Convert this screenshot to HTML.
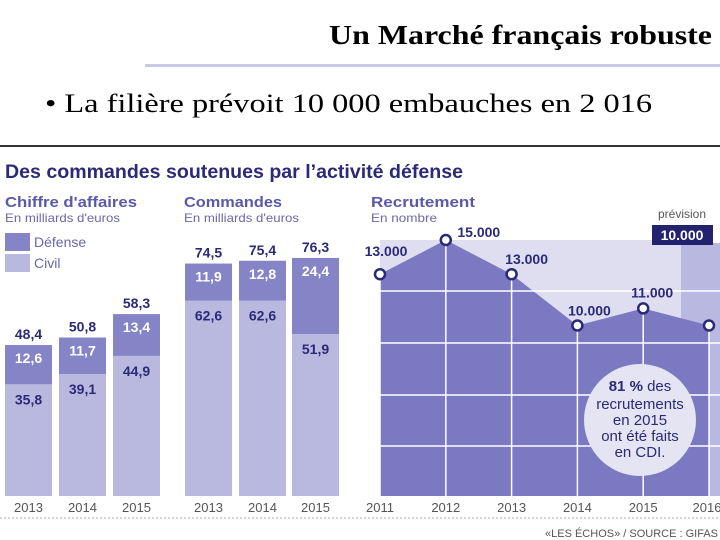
<!DOCTYPE html>
<html><head><meta charset="utf-8"><style>
body{margin:0;width:720px;height:540px;background:#fff;overflow:hidden;position:relative;font-family:"Liberation Sans",sans-serif}
</style></head><body>
<svg width="720" height="540" style="position:absolute;left:0;top:0">
<text x="329" y="44" font-family="Liberation Serif, serif" font-size="27" font-weight="bold" textLength="383" lengthAdjust="spacingAndGlyphs">Un Marché français robuste</text>
<rect x="145" y="64" width="575" height="3" fill="#c8c8e8"/>
<text x="45" y="112" font-family="Liberation Serif, serif" font-size="26" textLength="607" lengthAdjust="spacingAndGlyphs">• La filière prévoit 10 000 embauches en 2 016</text>
<rect x="0" y="145" width="720" height="2" fill="#333"/>
<g id="g" font-family="Liberation Sans, sans-serif"></g>
</svg>
<script>
const caYears=["2013","2014","2015"];
const caCivil=[35.8,39.1,44.9];
const caDef=[12.6,11.7,13.4];
const caTot=["48,4","50,8","58,3"];
const cmYears=["2013","2014","2015"];
const cmCivil=[62.6,62.6,51.9];
const cmDef=[11.9,12.8,24.4];
const cmTot=["74,5","75,4","76,3"];
const rcYears=["2011","2012","2013","2014","2015","2016"];
const rcVals=[13000,15000,13000,10000,11000,10000];
const g=document.getElementById('g');
const NS='http://www.w3.org/2000/svg';
function el(t,a,txt){const e=document.createElementNS(NS,t);for(const k in a)e.setAttribute(k,a[k]);if(txt!==undefined)e.textContent=txt;g.appendChild(e);return e;}
const navy='#2b2a78',civ='#b9b9e0',def='#8484c6';
const base=496,k=3.12;
const fmt=v=>String(v).replace('.',',');
let t;
t=el('text',{x:5,y:178,'font-size':19,'font-weight':'bold',fill:navy,textLength:458,lengthAdjust:'spacingAndGlyphs'},'Des commandes soutenues par l’activité défense');

function hdr(x,a,b,n,w1,w2){let e=el('text',{x:x,y:207,'font-size':15,'font-weight':'bold',fill:'#5a58a8',textLength:w1,lengthAdjust:'spacingAndGlyphs'},a);
e=el('text',{x:x,y:222,'font-size':12,fill:'#6a68a8',textLength:w2,lengthAdjust:'spacingAndGlyphs'},b);}
hdr(5,"Chiffre d'affaires","En milliards d'euros",'ca',132,115);
hdr(184,"Commandes","En milliards d'euros",'cmd',98,115);
hdr(371,"Recrutement","En nombre",'rc',104,66);
t=el('rect',{x:5,y:233,width:25,height:18,fill:def});
t=el('rect',{x:5,y:254,width:25,height:18,fill:civ});
t=el('text',{x:34,y:247,'font-size':14,fill:'#6a68a8'},'Défense');
t=el('text',{x:34,y:268,'font-size':14,fill:'#6a68a8'},'Civil');
function bars(xs,years,civil,defs,tots,n){for(let i=0;i<years.length;i++){const x=xs[i],w=47;const hc=civil[i]*k,hd=defs[i]*k;
let r=el('rect',{x:x,y:base-hc,width:w,height:hc,fill:civ});
r=el('rect',{x:x,y:base-hc-hd,width:w,height:hd,fill:def});
const cx=x+w/2;
r=el('text',{x:cx,y:base-hc-hd-6,'font-size':14,'font-weight':'bold',fill:navy,'text-anchor':'middle'},tots[i]);
r=el('text',{x:cx,y:base-hc-hd+18,'font-size':14,'font-weight':'bold',fill:'#fff','text-anchor':'middle'},fmt(defs[i]));
r=el('text',{x:cx,y:base-hc+20,'font-size':14,'font-weight':'bold',fill:navy,'text-anchor':'middle'},fmt(civil[i]));
r=el('text',{x:cx,y:512,'font-size':13,fill:'#555','text-anchor':'middle'},years[i]);}}
bars([5,59,113],caYears,caCivil,caDef,caTot,'ca');
bars([185,239,292],cmYears,cmCivil,cmDef,cmTot,'cmd');
const rx=i=>380+i*65.8, ry=v=>240+(15000-v)*0.0171;
t=el('rect',{x:380,y:240,width:305,height:base-240,fill:'#dedef0'});
t=el('rect',{x:681,y:243,width:39,height:base-243,fill:'#b8b8e0'});
let d='M'+rx(0)+','+base;rcVals.forEach((v,i)=>d+=' L'+rx(i)+','+ry(v));d+=' L'+rx(rcVals.length-1)+','+base+' Z';
t=el('path',{d:d,fill:'#7b79c2'});
[291,343,395,446].forEach((y,i)=>{const l=el('line',{x1:380,x2:720,y1:y,y2:y,stroke:'#fff','stroke-width':1.5});});
rcVals.forEach((v,i)=>{const l=el('line',{x1:rx(i),x2:rx(i),y1:ry(v),y2:base,stroke:'#fff','stroke-width':1.5});});
t=el('circle',{cx:640,cy:420,r:56,fill:'#e4e4f2'});
t=el('text',{x:640,y:391,'font-size':15,fill:navy,'text-anchor':'middle'});
t.innerHTML='<tspan font-weight="bold">81 %</tspan> des';
[['recrutements',409],['en 2015',425],['ont été faits',441],['en CDI.',457]].forEach((a,i)=>{const e=el('text',{x:640,y:a[1],'font-size':15,fill:navy,'text-anchor':'middle'},a[0]);});
const lbl=[[6,-18],[33,-3],[15,-10],[12,-10],[9,-11],[0,0]];
rcVals.forEach((v,i)=>{const c=el('circle',{cx:rx(i),cy:ry(v),r:5,fill:'#fff',stroke:navy,'stroke-width':2.5});
if(i<5){const e=el('text',{x:rx(i)+lbl[i][0],y:ry(v)+lbl[i][1],'font-size':14,'font-weight':'bold',fill:navy,'text-anchor':'middle'},v.toLocaleString('en').replace(',','.'));}
const y=el('text',{x:rx(i)+(i==5?-2:0),y:512,'font-size':13,fill:'#555','text-anchor':'middle'},rcYears[i]);});
t=el('text',{x:682,y:218,'font-size':12,fill:'#555','text-anchor':'middle'},'prévision');
t=el('rect',{x:652,y:225,width:61,height:20,fill:'#23226e'});
t=el('text',{x:682,y:240,'font-size':14,'font-weight':'bold',fill:'#fff','text-anchor':'middle'},rcVals[5].toLocaleString('en').replace(',','.'));
t=el('line',{x1:0,x2:720,y1:518,y2:518,stroke:'#aaa','stroke-dasharray':'2,2'});
t=el('text',{x:718,y:537,'font-size':11,fill:'#555','text-anchor':'end'},'«LES ÉCHOS» / SOURCE : GIFAS');
</script>
</body></html>
